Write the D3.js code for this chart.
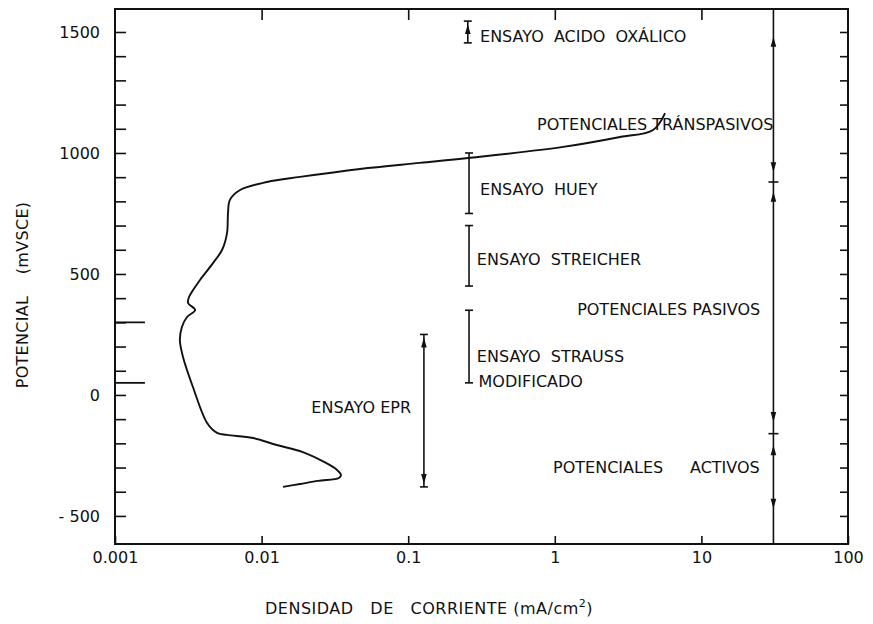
<!DOCTYPE html>
<html>
<head>
<meta charset="utf-8">
<script src="https://cdn.jsdelivr.net/npm/d3@7"></script>
<style>
  body { margin: 0; background: #fff; }
  text { font-family: "DejaVu Sans", sans-serif; fill: #111; }
</style>
</head>
<body>
<div id="chart"></div>
<script>
// curva de polarizacion: densidad de corriente (mA/cm2) y potencial (mV SCE)
var curveCurrent = [0.0140, 0.0183, 0.0243, 0.0337, 0.0348, 0.0327, 0.0275, 0.0191, 0.0127, 0.00873,
  0.00581, 0.00497, 0.00425, 0.00340, 0.00291, 0.00277, 0.00286, 0.00310, 0.00352, 0.00315,
  0.00320, 0.00335, 0.00380, 0.00466, 0.00537, 0.00581, 0.00590, 0.00608, 0.00713, 0.0109,
  0.0183, 0.0469, 0.120, 0.256, 1.14, 2.79, 4.68, 5.65];
var curvePotential = [-380, -368, -355, -343, -331, -310, -281, -236, -207, -178,
  -165, -157, -116, 33, 157, 227, 281, 322, 351, 380,
  405, 426, 475, 545, 599, 669, 752, 806, 847, 880,
  901, 934, 959, 979, 1025, 1066, 1095, 1165];

var xTicks = [0.001, 0.01, 0.1, 1, 10, 100];
var xTickLabels = ["0.001", "0.01", "0.1", "1", "10", "100"];
var yTicks = [-500, 0, 500, 1000, 1500];
var yTickLabels = ["- 500", "0", "500", "1000", "1500"];

// rangos de los ensayos
var testNames = ["ENSAYO ACIDO OXÁLICO", "ENSAYO HUEY", "ENSAYO STREICHER", "ENSAYO STRAUSS", "ENSAYO EPR"];
var testCurrent = [0.255, 0.26, 0.26, 0.26, 0.128];
var testLow = [1455, 750, 450, 50, -380];
var testHigh = [1545, 1000, 700, 350, 250];

// zonas de potencial (flecha vertical)
var zoneCurrent = 31;
var zoneBounds = [880, -160];
var zoneArrowTips = [1480, 920, 840, -112, -208, -470];
var zoneArrowDirs = ["up", "down", "up", "down", "up", "down"];

// marcas sobre el eje de potencial
var markPotentials = [300, 50];

var width = 873, height = 624;
var x = d3.scaleLog().domain([0.001, 100]).range([115, 848]);
var y = d3.scaleLinear().domain([-616, 1595]).range([544, 9]);

var svg = d3.select("#chart")
  .append("svg")
    .attr("width", width)
    .attr("height", height);

// axes (ticks only, frame drawn below)
var yMinor = d3.range(-500, 1501, 100);
svg.append("g")
    .attr("transform", "translate(" + x.range()[0] + ",0)")
    .call(d3.axisLeft(y).tickValues(yMinor).tickSizeInner(-11).tickSizeOuter(0).tickPadding(15)
      .tickFormat(function(d) { var i = yTicks.indexOf(d); return i < 0 ? "" : yTickLabels[i]; }));
svg.append("g")
    .attr("transform", "translate(" + x.range()[1] + ",0)")
    .call(d3.axisRight(y).tickValues(yMinor).tickSizeInner(-8).tickSizeOuter(0).tickFormat(""));
svg.append("g")
    .attr("transform", "translate(0," + y.range()[0] + ")")
    .call(d3.axisBottom(x).tickValues(xTicks).tickSizeInner(-8).tickSizeOuter(0).tickPadding(8)
      .tickFormat(function(d, i) { return xTickLabels[i]; }));
svg.append("g")
    .attr("transform", "translate(0," + y.range()[1] + ")")
    .call(d3.axisTop(x).tickValues(xTicks.slice(1, 5)).tickSizeInner(-11).tickSizeOuter(0).tickFormat(""));

svg.selectAll(".domain").remove();
svg.selectAll(".tick line").attr("stroke", "#111").attr("stroke-width", 1.6);
svg.selectAll(".tick text").style("font-size", "16px").attr("fill", "#111");

// frame
svg.append("rect")
    .attr("x", x.range()[0])
    .attr("y", y.range()[1])
    .attr("width", x.range()[1] - x.range()[0])
    .attr("height", y.range()[0] - y.range()[1])
    .attr("fill", "none")
    .attr("stroke", "#111")
    .attr("stroke-width", 2);

// long marks on the potential axis
svg.selectAll(".mark")
  .data(markPotentials)
  .enter()
  .append("line")
    .attr("class", "mark")
    .attr("x1", x(0.001))
    .attr("x2", x(0.0016))
    .attr("y1", function(d) { return y(d); })
    .attr("y2", function(d) { return y(d); })
    .attr("stroke", "#111")
    .attr("stroke-width", 1.8);

// the curve
var pts = curveCurrent.map(function(c, i) { return {c: c, v: curvePotential[i]}; });
svg.append("path")
    .datum(pts)
    .attr("fill", "none")
    .attr("stroke", "#111")
    .attr("stroke-width", 1.9)
    .attr("d", d3.line()
      .curve(d3.curveCatmullRom.alpha(0.5))
      .x(function(d) { return x(d.c); })
      .y(function(d) { return y(d.v); }));

// test range bars
var tests = testNames.map(function(n, i) {
  return {name: n, c: testCurrent[i], lo: testLow[i], hi: testHigh[i]};
});
var bars = svg.selectAll(".bar")
  .data(tests)
  .enter()
  .append("g")
    .attr("class", "bar");
bars.append("line")
    .attr("x1", function(d) { return x(d.c); })
    .attr("x2", function(d) { return x(d.c); })
    .attr("y1", function(d) { return y(d.hi); })
    .attr("y2", function(d) { return y(d.lo); })
    .attr("stroke", "#111")
    .attr("stroke-width", 1.6);
bars.selectAll(".cap")
  .data(function(d) { return [{c: d.c, v: d.hi}, {c: d.c, v: d.lo}]; })
  .enter()
  .append("line")
    .attr("x1", function(d) { return x(d.c) - 4; })
    .attr("x2", function(d) { return x(d.c) + 4; })
    .attr("y1", function(d) { return y(d.v); })
    .attr("y2", function(d) { return y(d.v); })
    .attr("stroke", "#111")
    .attr("stroke-width", 1.6);

function arrowHead(cx, cy, dir) {
  var s = dir == "up" ? 1 : -1;
  return "M" + cx + "," + cy + "L" + (cx - 2.8) + "," + (cy + s * 10) + "L" + (cx + 2.8) + "," + (cy + s * 10) + "Z";
}

// arrowheads on oxalic and EPR bars
var barHeads = [{c: testCurrent[0], v: testHigh[0], dir: "up"},
                {c: testCurrent[4], v: testHigh[4], dir: "up"},
                {c: testCurrent[4], v: testLow[4], dir: "down"}];
svg.selectAll(".barhead")
  .data(barHeads)
  .enter()
  .append("path")
    .attr("class", "barhead")
    .attr("d", function(d) { return arrowHead(x(d.c), y(d.v) + (d.dir == "up" ? 3 : -3), d.dir); })
    .attr("fill", "#111");

// potential zones arrow
svg.append("line")
    .attr("x1", x(zoneCurrent))
    .attr("x2", x(zoneCurrent))
    .attr("y1", y.range()[1])
    .attr("y2", y.range()[0])
    .attr("stroke", "#111")
    .attr("stroke-width", 1.6);
svg.selectAll(".zonecap")
  .data(zoneBounds)
  .enter()
  .append("line")
    .attr("class", "zonecap")
    .attr("x1", x(zoneCurrent) - 5)
    .attr("x2", x(zoneCurrent) + 5)
    .attr("y1", function(d) { return y(d); })
    .attr("y2", function(d) { return y(d); })
    .attr("stroke", "#111")
    .attr("stroke-width", 1.6);
svg.selectAll(".zonehead")
  .data(zoneArrowTips)
  .enter()
  .append("path")
    .attr("class", "zonehead")
    .attr("d", function(d, i) { return arrowHead(x(zoneCurrent), y(d), zoneArrowDirs[i]); })
    .attr("fill", "#111");

// annotations (anchored in data units)
var notes = [
  {t: "ENSAYO  ACIDO  OXÁLICO", c: 0.309, v: 1459, a: "start"},
  {t: "POTENCIALES TRÁNSPASIVOS", c: 0.757, v: 1095, a: "start"},
  {t: "ENSAYO  HUEY", c: 0.309, v: 826, a: "start"},
  {t: "ENSAYO  STREICHER", c: 0.294, v: 537, a: "start"},
  {t: "POTENCIALES PASIVOS", c: 1.42, v: 331, a: "start"},
  {t: "ENSAYO  STRAUSS", c: 0.294, v: 136, a: "start"},
  {t: "MODIFICADO", c: 0.302, v: 33, a: "start"},
  {t: "ENSAYO EPR", c: 0.1045, v: -74, a: "end"},
  {t: "POTENCIALES", c: 0.973, v: -322, a: "start"},
  {t: "ACTIVOS", c: 8.36, v: -322, a: "start"}
];
svg.selectAll(".note")
  .data(notes)
  .enter()
  .append("text")
    .attr("class", "note")
    .attr("x", function(d) { return x(d.c); })
    .attr("y", function(d) { return y(d.v); })
    .attr("text-anchor", function(d) { return d.a; })
    .style("font-size", "16px")
    .style("white-space", "pre")
    .text(function(d) { return d.t; });

// axis titles
var xt = svg.append("text")
    .attr("x", 265)
    .attr("y", 614)
    .style("font-size", "16px")
    .style("letter-spacing", "0.5px")
    .style("white-space", "pre")
    .text("DENSIDAD   DE   CORRIENTE (mA/cm");
xt.append("tspan").attr("dy", -7).style("font-size", "11px").text("2");
xt.append("tspan").attr("dy", 7).text(")");

svg.append("text")
    .attr("transform", "translate(28,295) rotate(-90)")
    .attr("text-anchor", "middle")
    .style("font-size", "16px")
    .style("letter-spacing", "0.3px")
    .style("white-space", "pre")
    .text("POTENCIAL    (mVSCE)");
</script>
</body>
</html>
